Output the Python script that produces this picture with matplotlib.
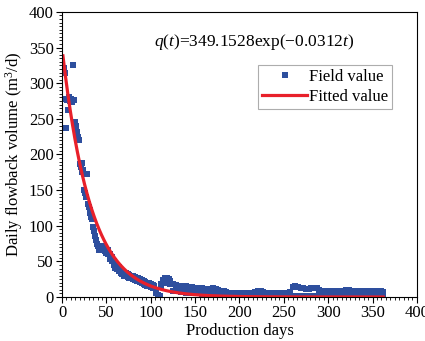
import numpy as np
import matplotlib.pyplot as plt
from matplotlib.ticker import MultipleLocator

# field data (days, daily flowback m3/d)
early_days = list(range(1, 41))
early_vals = [318, 322, 315, 278, 237, 276, 262, 280, 275, 278,
              274, 326, 277, 276, 246, 240, 232, 224, 220, 186,
              182, 188, 176, 178, 150, 146, 140, 172, 130, 126,
              122, 118, 112, 110, 98, 92, 86, 80, 74, 72]

mid_days = list(range(42, 124, 2))
mid_vals = [70, 70, 72, 70, 68, 66, 60, 56, 50, 46,
            44, 42, 38, 36, 34, 33, 32, 31, 30, 29,
            28, 27, 26, 25, 24, 22, 21, 20, 19, 18,
            17, 16, 8, 3, 2, 18, 24, 26, 27, 25, 22]
mid_low = [66, 66, 66, 64, 62, 60, 54, 50, 45, 41,
           39, 37, 34, 32, 30, 29, 28, 27, 26, 25,
           24, 23, 22, 21, 20, 18, 17, 16, 15, 14,
           13, 12, 5, 1, 1, 14, 19, 21, 22, 20, 18]

late_days = list(range(125, 365, 3))
late_vals = [18, 17, 16, 16, 15, 15, 14, 14, 13, 13,
             12, 12, 11, 11, 11, 12, 11, 10, 9, 8,
             7, 6, 6, 6, 6, 6, 5, 5, 5, 5,
             6, 7, 8, 8, 7, 6, 5, 5, 5, 5,
             6, 6, 6, 6, 7, 14, 15, 14, 13, 12,
             11, 11, 12, 13, 12, 10, 9, 9, 9, 9,
             9, 9, 9, 9, 9, 10, 10, 9, 9, 9,
             8, 8, 8, 8, 8, 8, 8, 8, 8, 7]
late_low = [9, 8, 8, 7, 7, 6, 6, 5, 5, 5,
            5, 4, 4, 4, 4, 4, 3, 3, 3, 3,
            2, 2, 2, 2, 2, 2, 2, 2, 2, 2,
            2, 2, 2, 2, 2, 2, 2, 2, 2, 2,
            2, 2, 2, 2, 2, 2, 2, 2, 2, 2,
            2, 2, 2, 2, 2, 2, 2, 2, 2, 2,
            2, 2, 2, 2, 2, 2, 2, 2, 2, 2,
            2, 2, 2, 2, 2, 2, 2, 2, 2, 2]

# fitted model from the chart annotation q(t)=a*exp(-b*t)
a_fit = 349.1528
b_fit = 0.0312

days = early_days + mid_days + mid_days + late_days + late_days
vals = early_vals + mid_vals + mid_low + late_vals + late_low

plt.rcParams['font.family'] = ['Liberation Serif', 'DejaVu Serif']
plt.rcParams['mathtext.fontset'] = 'custom'
plt.rcParams['mathtext.it'] = 'Liberation Serif:italic'
plt.rcParams['mathtext.rm'] = 'Liberation Serif'

fig = plt.figure(figsize=(4.25, 3.41), dpi=100)
ax = fig.add_axes([0.146, 0.129, 0.835, 0.836])

blue = '#2e4f9e'
ax.plot(days, vals, 's', color=blue, markersize=4.3, markeredgewidth=0,
        linestyle='none', label='Field value')

t = np.linspace(1, 362, 400)
ax.plot(t, a_fit * np.exp(-b_fit * t), color='#e8202a', lw=2.3, label='Fitted value')

ax.set_xlim(0, 400)
ax.set_ylim(0, 400)
ax.xaxis.set_major_locator(MultipleLocator(50))
ax.xaxis.set_minor_locator(MultipleLocator(5))
ax.yaxis.set_major_locator(MultipleLocator(50))
ax.yaxis.set_minor_locator(MultipleLocator(5))
ax.tick_params(which='major', direction='out', length=4, width=0.8, labelsize=12, pad=2)
ax.tick_params(which='minor', direction='out', length=2, width=0.6)

ax.set_xlabel('Production days', fontsize=12, labelpad=1)
ax.set_ylabel('Daily flowback volume (m$^3$/d)', fontsize=12, labelpad=3)

ax.text(0.54, 0.895,
        r'$q(t)$=349.1528exp($-$0.0312$t$)', transform=ax.transAxes,
        ha='center', va='center', fontsize=12.5)

leg = ax.legend(loc='upper right', bbox_to_anchor=(0.93, 0.815), fontsize=12,
                frameon=True, fancybox=False, edgecolor='#999999',
                borderpad=0.25, handlelength=2.7, handletextpad=0.1,
                labelspacing=0.25, borderaxespad=0, markerscale=1.0)
leg.get_frame().set_linewidth(0.8)

fig.savefig('out.png', dpi=100)
